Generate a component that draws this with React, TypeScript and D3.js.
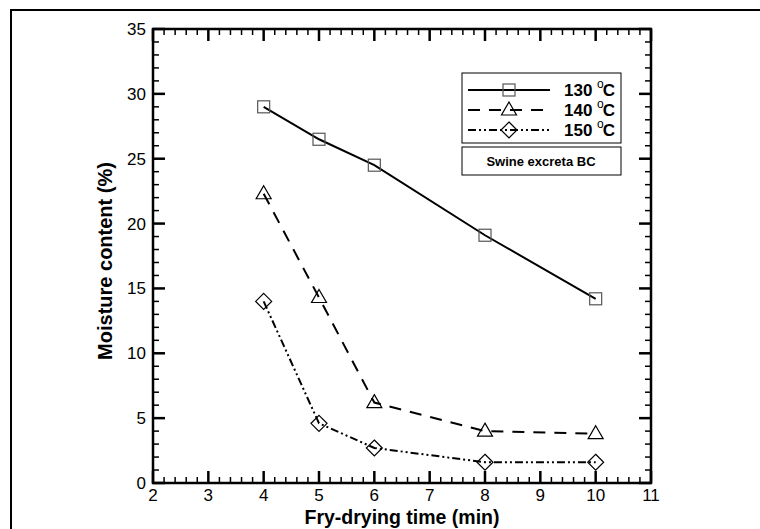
import React, { useRef, useEffect } from 'react';
import * as d3 from 'd3';

const times = [4, 5, 6, 8, 10];
const moisture130 = [29.0, 26.5, 24.5, 19.1, 14.2];
const moisture140 = [22.3, 14.3, 6.2, 4.0, 3.8];
const moisture150 = [14.0, 4.6, 2.7, 1.6, 1.6];
const seriesNames = ['130', '140', '150'];
const xTicks = [2, 3, 4, 5, 6, 7, 8, 9, 10, 11];
const yTicks = [0, 5, 10, 15, 20, 25, 30, 35];

const FONT = 'Liberation Sans, Arial, sans-serif';

const FryDryingChart: React.FC = () => {
  const svgRef = useRef<SVGSVGElement | null>(null);

  useEffect(() => {
    const svg = d3.select(svgRef.current!);
    svg.selectAll('*').remove();

    const left = 153, right = 651, top = 29, bottom = 483;

    const x = d3.scaleLinear().domain([2, 11]).range([left, right]);
    const y = d3.scaleLinear().domain([0, 35]).range([bottom, top]);

    // outer frame
    svg.append('rect')
      .attr('x', 11).attr('y', 10)
      .attr('width', 800).attr('height', 600)
      .attr('fill', 'none').attr('stroke', '#000').attr('stroke-width', 2);

    // ticks (inward, on all four sides)
    const xMinor = d3.range(2, 11.001, 0.2);
    const yMinor = d3.range(0, 35.001, 1);
    const tk = svg.append('g').attr('stroke', '#000');
    xMinor.forEach((v) => {
      const major = Math.abs(v - Math.round(v)) < 1e-6;
      const len = major ? 12 : 6;
      tk.append('line').attr('x1', x(v)).attr('x2', x(v)).attr('y1', bottom).attr('y2', bottom - len)
        .attr('stroke-width', major ? 2.5 : 1.5);
      tk.append('line').attr('x1', x(v)).attr('x2', x(v)).attr('y1', top).attr('y2', top + len)
        .attr('stroke-width', major ? 2.5 : 1.5);
    });
    yMinor.forEach((v) => {
      const major = Math.round(v) % 5 === 0;
      const len = major ? 12 : 6;
      tk.append('line').attr('y1', y(v)).attr('y2', y(v)).attr('x1', left).attr('x2', left + len)
        .attr('stroke-width', major ? 2.5 : 1.5);
      tk.append('line').attr('y1', y(v)).attr('y2', y(v)).attr('x1', right).attr('x2', right - len)
        .attr('stroke-width', major ? 2.5 : 1.5);
    });

    // plot frame
    svg.append('rect')
      .attr('x', left).attr('y', top)
      .attr('width', right - left).attr('height', bottom - top)
      .attr('fill', 'none').attr('stroke', '#000').attr('stroke-width', 2.5);

    // tick labels
    svg.append('g').selectAll('text').data(xTicks).join('text')
      .attr('x', (d) => x(d)).attr('y', bottom + 18)
      .attr('text-anchor', 'middle')
      .attr('font-family', FONT).attr('font-size', 17)
      .text((d) => d);
    svg.append('g').selectAll('text').data(yTicks).join('text')
      .attr('x', left - 7).attr('y', (d) => y(d) + 6)
      .attr('text-anchor', 'end')
      .attr('font-family', FONT).attr('font-size', 17)
      .text((d) => d);

    // axis titles
    svg.append('text')
      .attr('x', (left + right) / 2).attr('y', 524)
      .attr('text-anchor', 'middle')
      .attr('font-family', FONT).attr('font-size', 19.5).attr('font-weight', 'bold')
      .text('Fry-drying time (min)');
    svg.append('text')
      .attr('transform', `translate(112,261) rotate(-90)`)
      .attr('text-anchor', 'middle')
      .attr('font-family', FONT).attr('font-size', 20).attr('font-weight', 'bold')
      .text('Moisture content (%)');

    const dashes = [null, '12,9', '8,3,2,3,2,3'];
    const seriesData = [moisture130, moisture140, moisture150];

    const drawMarker = (g: d3.Selection<SVGGElement, unknown, null, undefined>, kind: number, cx: number, cy: number) => {
      if (kind === 0) {
        g.append('rect').attr('x', cx - 6).attr('y', cy - 6).attr('width', 12).attr('height', 12)
          .attr('fill', 'none').attr('stroke', '#555').attr('stroke-width', 1.2);
      } else if (kind === 1) {
        g.append('path').attr('d', `M${cx},${cy - 8}L${cx + 7.5},${cy + 5}L${cx - 7.5},${cy + 5}Z`)
          .attr('fill', 'none').attr('stroke', '#000').attr('stroke-width', 1.2);
      } else {
        g.append('path').attr('d', `M${cx},${cy - 8}L${cx + 8},${cy}L${cx},${cy + 8}L${cx - 8},${cy}Z`)
          .attr('fill', 'none').attr('stroke', '#000').attr('stroke-width', 1.2);
      }
    };

    const line = d3.line<number>()
      .x((_, i) => x(times[i]))
      .y((d) => y(d));

    seriesData.forEach((vals, k) => {
      const g = svg.append('g');
      g.append('path')
        .attr('d', line(vals))
        .attr('fill', 'none').attr('stroke', '#000').attr('stroke-width', 2)
        .attr('stroke-dasharray', dashes[k]);
      vals.forEach((v, i) => drawMarker(g as any, k, x(times[i]), y(v)));
    });

    // legend
    const lg = svg.append('g');
    lg.append('rect').attr('x', 462).attr('y', 73).attr('width', 159).attr('height', 70)
      .attr('fill', '#fff').attr('stroke', '#000').attr('stroke-width', 1);
    seriesNames.forEach((name, k) => {
      const ly = 90 + k * 20;
      lg.append('line').attr('x1', 468).attr('x2', 550).attr('y1', ly).attr('y2', ly)
        .attr('stroke', '#000').attr('stroke-width', 2).attr('stroke-dasharray', dashes[k]);
      drawMarker(lg as any, k, 509, ly);
      const t = lg.append('text').attr('x', 564).attr('y', ly + 6)
        .attr('font-family', FONT).attr('font-size', 17).attr('font-weight', 'bold');
      t.append('tspan').text(name + ' ');
      t.append('tspan').attr('font-size', 12).attr('font-weight', 'normal').attr('dy', -8).text('o');
      t.append('tspan').attr('dy', 8).attr('dx', -1).text('C');
    });
    lg.append('rect').attr('x', 462).attr('y', 147).attr('width', 159).attr('height', 28)
      .attr('fill', '#fff').attr('stroke', '#000').attr('stroke-width', 1);
    lg.append('text').attr('x', 541).attr('y', 166)
      .attr('text-anchor', 'middle')
      .attr('font-family', FONT).attr('font-size', 13).attr('font-weight', 'bold')
      .text('Swine excreta BC');
  }, []);

  return (
    <svg ref={svgRef} width={760} height={529}
      style={{ position: 'absolute', left: 0, top: 0, background: '#fff' }} />
  );
};

export default function App() {
  return <FryDryingChart />;
}
